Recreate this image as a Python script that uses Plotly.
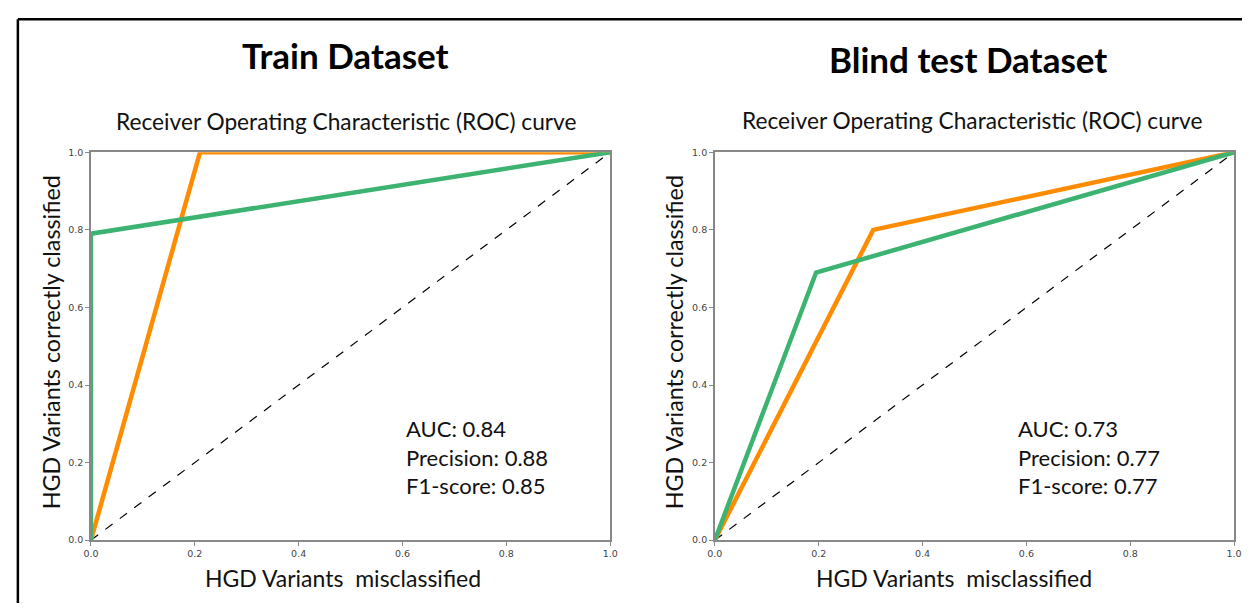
import plotly.graph_objects as go

# Data
train_orange_x = [0.0, 0.21, 1.0]
train_orange_y = [0.0, 1.0, 1.0]
train_green_x = [0.0, 0.0, 1.0]
train_green_y = [0.0, 0.79, 1.0]

blind_orange_x = [0.0, 0.305, 1.0]
blind_orange_y = [0.0, 0.80, 1.0]
blind_green_x = [0.0, 0.195, 1.0]
blind_green_y = [0.0, 0.69, 1.0]

diag = [0.0, 1.0]
tick_vals = [0.0, 0.2, 0.4, 0.6, 0.8, 1.0]
tick_text = ["0.0", "0.2", "0.4", "0.6", "0.8", "1.0"]

panel_titles = ["Train Dataset", "Blind test Dataset"]
subtitle = "Receiver Operating Characteristic (ROC) curve"
xlab = "HGD Variants  misclassified"
ylab = "HGD Variants correctly classified"
metrics = [
    "AUC: 0.84<br>Precision: 0.88<br>F1-score: 0.85",
    "AUC: 0.73<br>Precision: 0.77<br>F1-score: 0.77",
]

ORANGE = "#ff8c00"
GREEN = "#3cb371"
W, H = 1250, 608
FONT = "Lato"

def px(x):
    return x / W

def py(y):
    return 1 - y / H

fig = go.Figure()

panels = [
    ("x", "y", train_orange_x, train_orange_y, train_green_x, train_green_y),
    ("x2", "y2", blind_orange_x, blind_orange_y, blind_green_x, blind_green_y),
]
for xa, ya, ox, oy, gx, gy in panels:
    fig.add_trace(go.Scatter(x=diag, y=diag, mode="lines", xaxis=xa, yaxis=ya,
                             line=dict(color="black", width=1.2, dash="dash"),
                             showlegend=False, hoverinfo="skip"))
    fig.add_trace(go.Scatter(x=ox, y=oy, mode="lines", xaxis=xa, yaxis=ya,
                             line=dict(color=ORANGE, width=4.5),
                             showlegend=False))
    fig.add_trace(go.Scatter(x=gx, y=gy, mode="lines", xaxis=xa, yaxis=ya,
                             line=dict(color=GREEN, width=4.5),
                             showlegend=False))

axis_common = dict(
    range=[0, 1], showgrid=False, zeroline=False, showline=True, mirror=True,
    linecolor="#888888", linewidth=1.5, ticks="outside", ticklen=4,
    tickcolor="#888888", tickvals=tick_vals, ticktext=tick_text,
    tickfont=dict(family="DejaVu Sans", size=9.5, color="#444444"),
)

y_dom = [py(544), py(149)]
fig.update_layout(
    width=W, height=H, margin=dict(l=0, r=0, t=0, b=0),
    paper_bgcolor="white", plot_bgcolor="white", showlegend=False,
    xaxis=dict(domain=[px(84), px(610)], anchor="y", **axis_common),
    yaxis=dict(domain=y_dom, anchor="x", **axis_common),
    xaxis2=dict(domain=[px(716), px(1242)], anchor="y2", **axis_common),
    yaxis2=dict(domain=y_dom, anchor="x2", **axis_common),
)

# Border lines
fig.add_shape(type="line", xref="paper", yref="paper",
              x0=px(10), y0=py(13.5), x1=1, y1=py(13.5),
              line=dict(color="black", width=2.5))
fig.add_shape(type="line", xref="paper", yref="paper",
              x0=px(10), y0=py(13.5), x1=px(10), y1=0,
              line=dict(color="black", width=2.5))

title_pos = [(342, 50), (972, 54)]
sub_pos = [(342, 118), (976, 117)]
xlab_pos = [(339, 583), (958, 583)]
ylab_pos = [(43, 342), (674, 342)]
metric_pos = [(401, 459), (1021, 459)]

for i in range(2):
    fig.add_annotation(text="<b>" + panel_titles[i] + "</b>", xref="paper", yref="paper",
                       x=px(title_pos[i][0]), y=py(title_pos[i][1]),
                       showarrow=False, xanchor="center", yanchor="middle",
                       font=dict(family=FONT, size=35, color="black"))
    fig.add_annotation(text=subtitle, xref="paper", yref="paper",
                       x=px(sub_pos[i][0]), y=py(sub_pos[i][1]),
                       showarrow=False, xanchor="center", yanchor="middle",
                       font=dict(family=FONT, size=22.7, color="#111111"))
    fig.add_annotation(text=xlab, xref="paper", yref="paper",
                       x=px(xlab_pos[i][0]), y=py(xlab_pos[i][1]),
                       showarrow=False, xanchor="center", yanchor="middle",
                       font=dict(family=FONT, size=23, color="#111111"))
    fig.add_annotation(text=ylab, xref="paper", yref="paper",
                       x=px(ylab_pos[i][0]), y=py(ylab_pos[i][1]),
                       showarrow=False, xanchor="center", yanchor="middle",
                       textangle=-90,
                       font=dict(family=FONT, size=23.3, color="#111111"))
    fig.add_annotation(text=metrics[i], xref="paper", yref="paper",
                       x=px(metric_pos[i][0]), y=py(metric_pos[i][1]),
                       showarrow=False, xanchor="left", yanchor="middle", align="left",
                       font=dict(family=FONT, size=22, color="#111111"))

fig.write_html("out.html")
